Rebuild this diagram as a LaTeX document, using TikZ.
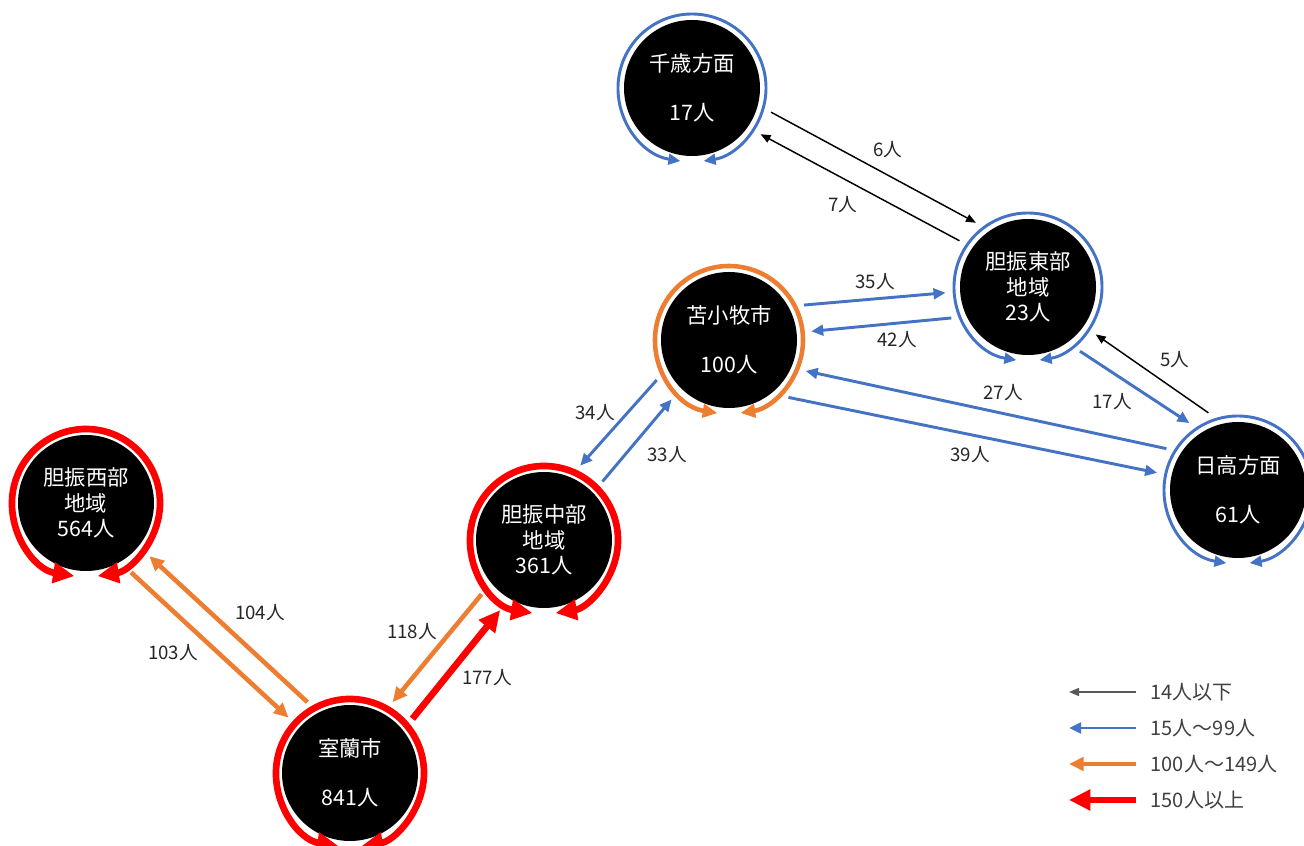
\documentclass[tikz,border=0pt]{standalone}
\usepackage{fontspec}
\setmainfont{Noto Sans CJK JP}
\usetikzlibrary{arrows.meta}

\definecolor{flowblue}{HTML}{4472C4}
\definecolor{floworange}{HTML}{ED7D31}
\definecolor{flowred}{HTML}{FF0000}
\definecolor{labelgray}{HTML}{262626}
\definecolor{keygray}{HTML}{595959}
\definecolor{keytext}{HTML}{404040}

\begin{document}
\begin{tikzpicture}[x=0.75pt, y=0.75pt,
    area/.style={circle, fill=black, text=white, minimum size=102pt, inner sep=0pt,
        outer sep=11pt, align=center, font=\fontsize{16pt}{19pt}\selectfont},
    num/.style={text=labelgray, font=\fontsize{14pt}{16pt}\selectfont},
    keylabel/.style={text=keytext, anchor=west, font=\fontsize{15pt}{17pt}\selectfont},
    thinflow/.style={draw=black, line width=1.1pt, >={Triangle[length=7.5pt,width=6pt]}},
    keyflow/.style={thinflow, draw=keygray},
    blueflow/.style={draw=flowblue, line width=2.2pt, >={Triangle[length=9pt,width=8pt]}},
    orangeflow/.style={draw=floworange, line width=3.4pt, >={Triangle[length=11pt,width=10pt]}},
    redflow/.style={draw=flowred, line width=5pt, >={Triangle[length=16pt,width=15pt]}}]
    \useasboundingbox (0,0) rectangle (1304,846);

    \node[area] (chitose) at (692,758) {千歳方面\\[18pt]17人};
    \node[area] (east) at (1028,559) {胆振東部\\地域\\23人};
    \node[area] (tomakomai) at (729,506) {苫小牧市\\[18pt]100人};
    \node[area] (hidaka) at (1238,356) {日高方面\\[18pt]61人};
    \node[area] (west) at (86,343) {胆振西部\\地域\\564人};
    \node[area] (mid) at (544,306) {胆振中部\\地域\\361人};
    \node[area] (muroran) at (350,73) {室蘭市\\[18pt]841人};

    \foreach \n/\s in {chitose/blueflow, east/blueflow, hidaka/blueflow, tomakomai/orangeflow,
        west/redflow, mid/redflow, muroran/redflow}
        \draw[\s, <->] (\n.center) ++(261:55.5pt) arc[start angle=261, end angle=-81, radius=55.5pt];

    \draw[thinflow, ->] (chitose.-17) -- (east.129);
    \draw[thinflow, ->] (east.146) -- (chitose.-34);
    \draw[blueflow, ->] (tomakomai.25) -- (east.184);
    \draw[blueflow, ->] (east.202) -- (tomakomai.6);
    \draw[thinflow, ->] (hidaka.111) -- (east.-35);
    \draw[blueflow, ->] (east.-51) -- (hidaka.126);
    \draw[blueflow, ->] (hidaka.150) -- (tomakomai.-22);
    \draw[blueflow, ->] (tomakomai.-44) -- (hidaka.168);
    \draw[blueflow, ->] (tomakomai.209) -- (mid.64);
    \draw[blueflow, ->] (mid.45) -- (tomakomai.226);
    \draw[redflow, ->] (muroran.41) -- (mid.238);
    \draw[orangeflow, ->] (mid.221) -- (muroran.59);
    \draw[orangeflow, ->] (west.-57) -- (muroran.138);
    \draw[orangeflow, ->] (muroran.121) -- (west.-40);

    \node[num] (n6) at (888,696) {6人};
    \node[num] (n7) at (843,641) {7人};
    \node[num] (n35) at (875,564) {35人};
    \node[num] (n42) at (897,506) {42人};
    \node[num] (n5) at (1175,486) {5人};
    \node[num] (n17) at (1112,444) {17人};
    \node[num] (n27) at (1003,453) {27人};
    \node[num] (n39) at (970,391) {39人};
    \node[num] (n34) at (595,433) {34人};
    \node[num] (n33) at (667,391) {33人};
    \node[num] (n177) at (487,168) {177人};
    \node[num] (n118) at (412,214) {118人};
    \node[num] (n103) at (173,193) {103人};
    \node[num] (n104) at (260,233) {104人};

    \foreach \i/\s/\y/\t in {1/keyflow/154/14人以下, 2/blueflow/118/15人～99人,
        3/orangeflow/82/100人～149人, 4/redflow/46/150人以上} {
        \node[keylabel] (key\i) at (1146,\y) {\t};
        \coordinate (keyend\i) at (1069,\y);
        \draw[\s, ->] ([xshift=-7.5pt]key\i.west) -- (keyend\i);
    }
\end{tikzpicture}
\end{document}
